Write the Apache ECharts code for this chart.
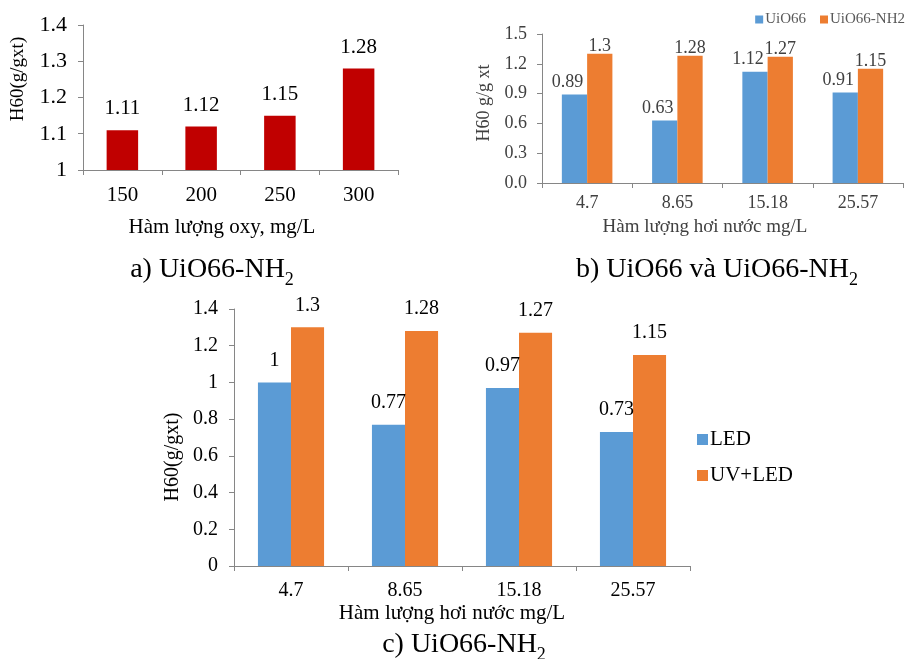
<!DOCTYPE html>
<html>
<head>
<meta charset="utf-8">
<script src="https://cdn.jsdelivr.net/npm/echarts@6/dist/echarts.min.js"></script>
<style>html,body{margin:0;padding:0;background:#fff}#c{width:913px;height:659px}</style>
</head>
<body>
<div id="c"></div>
<script>
// ---- data ----
const catsA = ['150', '200', '250', '300'];
const valsA = [1.11, 1.12, 1.15, 1.28];
const catsB = ['4.7', '8.65', '15.18', '25.57'];
const uio66 = [0.89, 0.63, 1.12, 0.91];
const uio66nh2 = [1.3, 1.28, 1.27, 1.15];
const catsC = ['4.7', '8.65', '15.18', '25.57'];
const led = [1, 0.77, 0.97, 0.73];
const uvled = [1.3, 1.28, 1.27, 1.15];
const legendB = ['UiO66', 'UiO66-NH2'];
const legendC = ['LED', 'UV+LED'];

const FONT = "'Liberation Serif', 'Times New Roman', serif";
const AX = '#868686';
const BLUE = '#5B9BD5', ORANGE = '#ED7D31', RED = '#C00000';

function catAxis(idx, data, size, color, margin) {
  return {
    type: 'category', gridIndex: idx, data: data,
    axisLine: {lineStyle: {color: AX, width: 1}},
    axisTick: {show: true, length: 5, interval: 0, alignWithLabel: false, lineStyle: {color: AX}},
    axisLabel: {fontFamily: FONT, fontSize: size, color: color, margin: margin, interval: 0},
    splitLine: {show: false}
  };
}
function valAxis(idx, min, max, interval, size, color, margin, fmt) {
  return {
    type: 'value', gridIndex: idx, min: min, max: max, interval: interval,
    axisLine: {show: true, lineStyle: {color: AX, width: 1}},
    axisTick: {show: true, length: 5, lineStyle: {color: AX}},
    axisLabel: {fontFamily: FONT, fontSize: size, color: color, margin: margin, formatter: fmt},
    splitLine: {show: false}
  };
}
function caption(x, y, main) {
  return {
    type: 'text', x: x, y: y,
    style: {
      text: '{m|' + main + '}{s|2}',
      align: 'center', verticalAlign: 'middle',
      rich: {
        m: {fontFamily: FONT, fontSize: 28, color: '#000', lineHeight: 38, verticalAlign: 'middle'},
        s: {fontFamily: FONT, fontSize: 18, color: '#000', lineHeight: 38, verticalAlign: 'bottom'}
      }
    }
  };
}
function txt(x, y, t, size, color, rot) {
  return {
    type: 'text', x: x, y: y, rotation: rot || 0,
    style: {text: t, fontFamily: FONT, fontSize: size, fill: color, align: 'center', verticalAlign: 'middle'}
  };
}

const chart = echarts.init(document.getElementById('c'));
chart.setOption({
  animation: false,
  backgroundColor: '#fff',
  grid: [
    {left: 83, right: 515, top: 25, bottom: 489},
    {left: 542, right: 10, top: 34, bottom: 476},
    {left: 234, right: 223, top: 309, bottom: 93}
  ],
  xAxis: [
    catAxis(0, catsA, 21, '#000', 15),
    catAxis(1, catsB, 18, '#404040', 11),
    catAxis(2, catsC, 20, '#000', 15)
  ],
  yAxis: [
    valAxis(0, 1, 1.4, 0.1, 22, '#000', 16, v => String(+v.toFixed(1))),
    valAxis(1, 0, 1.5, 0.3, 18, '#404040', 15, v => v.toFixed(1)),
    valAxis(2, 0, 1.4, 0.2, 20, '#000', 16, v => String(+v.toFixed(1)))
  ],
  legend: [
    {
      data: legendB, right: 3, top: 7, itemWidth: 8, itemHeight: 8, itemGap: 14,
      icon: 'rect', textStyle: {fontFamily: FONT, fontSize: 15, color: '#595959', padding: [0, 0, 0, -3]}
    },
    {
      data: legendC, orient: 'vertical', left: 692, top: 424, itemWidth: 11, itemHeight: 11, itemGap: 15,
      icon: 'rect', textStyle: {fontFamily: FONT, fontSize: 21, color: '#000', padding: [0, 0, 0, -3]}
    }
  ],
  series: [
    {
      type: 'bar', xAxisIndex: 0, yAxisIndex: 0, data: valsA, barWidth: '40%',
      itemStyle: {color: RED},
      label: {show: true, position: 'top', distance: 11, fontFamily: FONT, fontSize: 21, color: '#000'}
    },
    {
      name: 'UiO66', type: 'bar', xAxisIndex: 1, yAxisIndex: 1, data: uio66, barWidth: '28%', barGap: '0%',
      itemStyle: {color: BLUE},
      label: {show: true, position: 'top', distance: 3, offset: [-7, 0], fontFamily: FONT, fontSize: 18, color: '#404040'}
    },
    {
      name: 'UiO66-NH2', type: 'bar', xAxisIndex: 1, yAxisIndex: 1, data: uio66nh2, barWidth: '28%', barGap: '0%',
      itemStyle: {color: ORANGE},
      label: {show: true, position: 'top', distance: -1, fontFamily: FONT, fontSize: 18, color: '#404040'}
    },
    {
      name: 'LED', type: 'bar', xAxisIndex: 2, yAxisIndex: 2, data: led, barWidth: '29%', barGap: '0%',
      itemStyle: {color: BLUE},
      label: {show: true, position: 'top', distance: 12, fontFamily: FONT, fontSize: 20, color: '#000'}
    },
    {
      name: 'UV+LED', type: 'bar', xAxisIndex: 2, yAxisIndex: 2, data: uvled, barWidth: '29%', barGap: '0%',
      itemStyle: {color: ORANGE},
      label: {show: true, position: 'top', distance: 12, fontFamily: FONT, fontSize: 20, color: '#000'}
    }
  ],
  graphic: [
    txt(18, 79, 'H60(g/gxt)', 19, '#000', Math.PI / 2),
    txt(222, 227, 'Hàm lượng oxy, mg/L', 21, '#000'),
    caption(212, 270, 'a) UiO66-NH'),
    txt(484, 103, 'H60 g/g xt', 18, '#404040', Math.PI / 2),
    txt(705, 227, 'Hàm lượng hơi nước mg/L', 19, '#404040'),
    caption(717, 270, 'b) UiO66 và UiO66-NH'),
    txt(173, 457, 'H60(g/gxt)', 20, '#000', Math.PI / 2),
    txt(452, 613, 'Hàm lượng hơi nước mg/L', 21, '#000'),
    caption(464, 645, 'c) UiO66-NH')
  ]
});
</script>
</body>
</html>
